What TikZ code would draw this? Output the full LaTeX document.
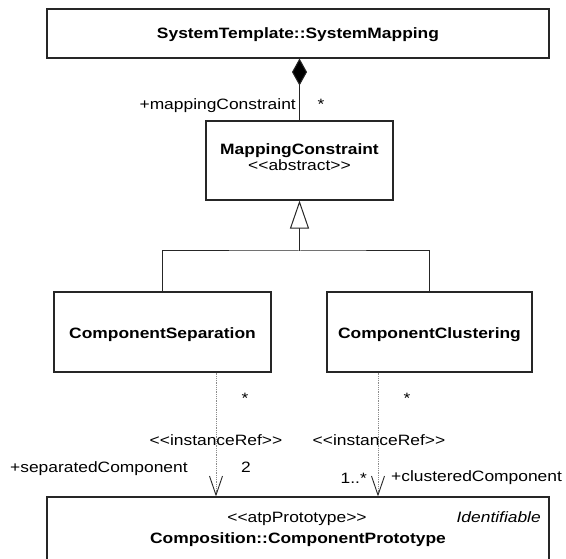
\documentclass[tikz,border=0pt]{standalone}
\usepackage{fontspec}
\setmainfont{Liberation Sans}[FakeStretch=1.16]
\usetikzlibrary{arrows.meta}
\newcommand{\stereo}[1]{<{}<#1>{}>}
\begin{document}
\begin{tikzpicture}[x=1pt,y=-1pt,
  box/.style={draw=black!85, line width=1.1pt, inner sep=0pt},
  txt/.style={inner sep=0pt, anchor=base, font=\fontsize{15}{18}\selectfont},
  bold/.style={txt, font=\fontsize{15}{18}\selectfont\bfseries},
  link/.style={draw=black!85, line width=1pt},
  ref/.style={draw=black!45, densely dotted, line width=0.8pt},
  refhead/.style={-{Straight Barb[length=19pt, width=13pt, color=black!85, line width=0.9pt]}},
]
\useasboundingbox (0,0) rectangle (566,559);
\clip (0,0) rectangle (566,559);

% classes
\node[box, minimum width=502pt, minimum height=49pt] (sys) at (298,33.5) {};
\node[bold] (systitle) at (298,39) {SystemTemplate::SystemMapping};

\node[box, minimum width=187pt, minimum height=79pt] (mc) at (299.5,160.5) {};
\node[bold] (mctitle) at (299.5,155) {MappingConstraint};
\node[txt] (mcster) at (299.5,171) {\stereo{abstract}};

\node[box, minimum width=217pt, minimum height=80pt] (cs) at (162.5,332) {};
\node[bold] (cstitle) at (162.5,338) {ComponentSeparation};

\node[box, minimum width=205pt, minimum height=80pt] (cc) at (429.5,332) {};
\node[bold] (cctitle) at (429.5,338) {ComponentClustering};

\node[box, minimum width=502pt, minimum height=103pt] (proto) at (298,548.5) {};
\node[txt] (protoster) at (297,522) {\stereo{atpPrototype}};
\node[txt, anchor=base east, font=\fontsize{15}{18}\selectfont\itshape] (protobase) at (541,522) {Identifiable};
\node[bold] (prototitle) at (298,543) {Composition::ComponentPrototype};

% composition
\draw[link, -{Diamond[length=27pt, width=15pt, fill=black]}] (mc.north) -- (mc.north |- sys.south);
\node[txt, anchor=base east] (rolemc) at (296,110) {+mappingConstraint};
\node[txt] (multmc) at (321,110) {*};

% generalization
\coordinate (gen) at (299.5,251);
\draw[link, -{Triangle[open, length=28pt, width=19pt, fill=white]}] (gen) -- (mc.south);
\draw[link] (cs.north) |- (gen) -| (cc.north);

% instance references
\coordinate (sx) at (216,0);
\coordinate (cx) at (378,0);
\draw[ref, refhead] (sx |- cs.south) -- (sx |- proto.north);
\draw[ref, refhead] (cx |- cc.south) -- (cx |- proto.north);

\node[txt] (multcs) at (245,403) {*};
\node[txt] (multcc) at (407,403) {*};
\node[txt] (stcs) at (216,446) {\stereo{instanceRef}};
\node[txt] (stcc) at (379,446) {\stereo{instanceRef}};
\node[txt, anchor=base west] (rolecs) at (10,472) {+separatedComponent};
\node[txt] (multsep) at (246,472) {2};
\node[txt, anchor=base east] (multclu) at (367,483) {1..*};
\node[txt, anchor=base west] (rolecc) at (391,481) {+clusteredComponent};
\end{tikzpicture}
\end{document}
